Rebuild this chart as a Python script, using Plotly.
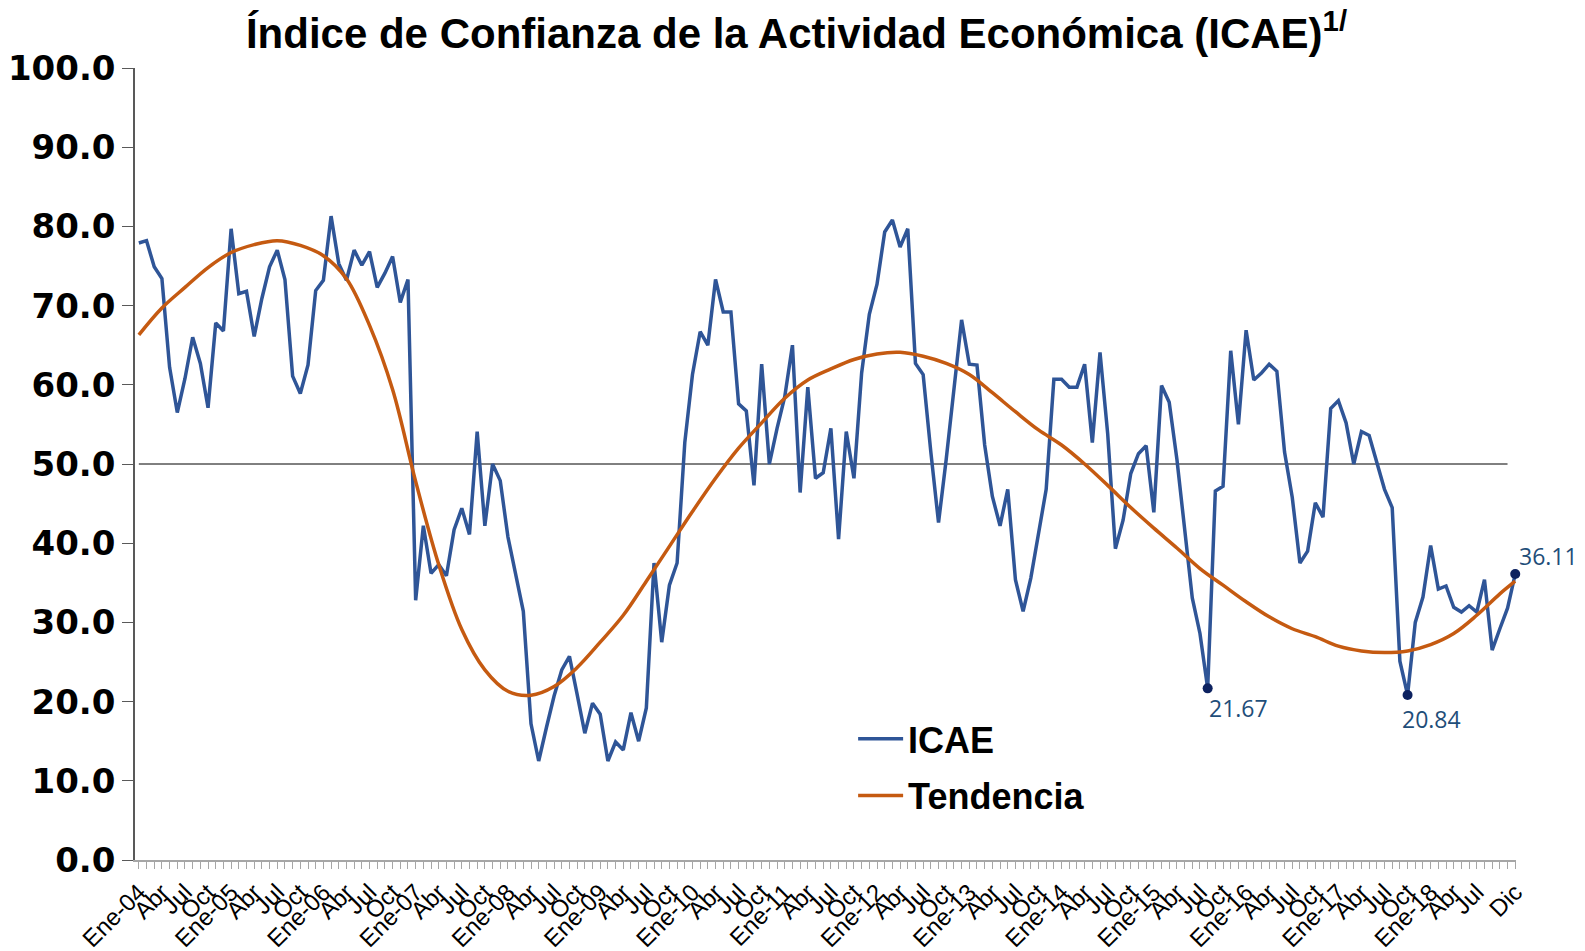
import plotly.graph_objects as go

# Monthly ICAE, Ene-04 .. Dic-18 (180 months)
icae = [
    77.9, 78.2, 74.9, 73.4, 62.2, 56.5, 60.8, 66.0, 62.7, 57.1, 67.8, 66.8,
    79.7, 71.5, 71.8, 66.1, 70.9, 74.9, 77.0, 73.3, 61.1, 58.9, 62.5, 71.9,
    73.2, 81.3, 75.3, 73.2, 77.0, 75.1, 76.8, 72.3, 74.1, 76.2, 70.4, 73.3,
    32.8, 42.2, 36.2, 37.3, 35.9, 41.7, 44.4, 41.1, 54.1, 42.2, 50.0, 47.9,
    40.8, 36.1, 31.4, 17.2, 12.5, 16.7, 20.7, 24.0, 25.7, 20.9, 16.0, 19.8,
    18.4, 12.5, 14.9, 13.9, 18.6, 15.0, 19.2, 37.5, 27.5, 34.7, 37.5, 52.7,
    61.3, 66.7, 65.0, 73.3, 69.2, 69.2, 57.6, 56.7, 47.3, 62.6, 50.0, 54.5,
    58.5, 65.0, 46.4, 59.7, 48.2, 48.9, 54.5, 40.5, 54.1, 48.2, 61.5, 68.9,
    72.7, 79.3, 80.8, 77.4, 79.7, 62.7, 61.3, 51.5, 42.6, 50.6, 59.4, 68.2,
    62.6, 62.5, 52.4, 45.9, 42.2, 46.8, 35.4, 31.4, 35.6, 41.5, 46.8, 60.7,
    60.7, 59.7, 59.7, 62.6, 52.7, 64.1, 53.8, 39.3, 42.9, 48.8, 51.3, 52.3,
    43.9, 59.9, 57.8, 50.6, 41.9, 33.1, 28.6, 21.67, 46.6, 47.2, 64.3, 55.0,
    66.9, 60.6, 61.5, 62.6, 61.7, 51.5, 45.8, 37.5, 39.0, 45.1, 43.3, 57.0,
    58.0, 55.2, 50.0, 54.1, 53.6, 50.3, 46.8, 44.5, 25.1, 20.84, 30.0, 33.2,
    39.7, 34.2, 34.6, 31.9, 31.3, 32.1, 31.3, 35.4, 26.5, 29.2, 31.8, 36.11,
]

# trend line every quarter (plus the last month)
trend_months = list(range(0, 180, 3)) + [179]
trend = [
    66.3, 69.7, 72.3, 74.8, 76.7, 77.7, 78.2, 77.6, 76.3, 73.4,
    67.5, 59.4, 47.8, 37.3, 29.1, 24.0, 21.3, 20.8, 21.9, 24.3,
    27.5, 30.9, 35.2, 39.6, 44.0, 48.2, 52.0, 55.2, 58.3, 60.6,
    62.0, 63.2, 63.9, 64.1, 63.6, 62.7, 61.3, 59.0, 56.6, 54.3,
    52.4, 50.0, 47.3, 44.5, 41.9, 39.4, 36.8, 34.7, 32.6, 30.7,
    29.2, 28.2, 27.0, 26.4, 26.2, 26.4, 27.2, 28.6, 30.9, 33.6,
    35.2,
]

years = ["04", "05", "06", "07", "08", "09", "10", "11",
         "12", "13", "14", "15", "16", "17", "18"]
tick_labels = []
for yy in years:
    tick_labels += ["Ene-" + yy, "Abr", "Jul", "Oct"]
tick_labels = tick_labels[:-1] + ["Dic"]
tick_pos = list(range(0, 177, 3)) + [179]

labeled = [139, 165, 179]
months = list(range(len(icae)))

BLUE = "#2F5597"
ORANGE = "#C55A11"

fig = go.Figure()
fig.add_trace(go.Scatter(
    x=months, y=icae, mode="lines", name="ICAE",
    line=dict(color=BLUE, width=3.5), legendgroup="a",
))
fig.add_trace(go.Scatter(
    x=trend_months, y=trend, mode="lines", name="Tendencia",
    line=dict(color=ORANGE, width=3.5, shape="spline", smoothing=1.0),
    legendgroup="b",
))
fig.add_trace(go.Scatter(
    x=labeled, y=[icae[i] for i in labeled], mode="markers",
    marker=dict(color="#0D2260", size=10),
    showlegend=False, cliponaxis=False,
))

# data labels for the highlighted points
label_style = [
    dict(xanchor="left", yanchor="top", xshift=-1, yshift=-2),
    dict(xanchor="left", yanchor="top", xshift=-8, yshift=-6),
    dict(xanchor="left", yanchor="bottom", xshift=2, yshift=0),
]
for i, st in zip(labeled, label_style):
    fig.add_annotation(
        x=i, y=icae[i], text=f"{icae[i]:.2f}", showarrow=False,
        font=dict(family="Open Sans", size=23, color="#1F4E79"), **st,
    )

fig.add_shape(type="line", xref="x", yref="y", x0=0, x1=178, y0=50, y1=50,
              line=dict(color="black", width=1), layer="below")

# page body has an 8px margin, so the figure is sized to fit the window
fig.update_layout(
    width=1577, height=943,
    paper_bgcolor="white", plot_bgcolor="white",
    margin=dict(l=127, r=69, t=60, b=91),
    title=dict(
        text="Índice de Confianza de la Actividad Económica (ICAE)<sup>1/</sup>",
        x=0.5, xref="container", xanchor="center",
        y=0.973, yref="container", yanchor="middle",
        font=dict(family="Liberation Sans", size=42, color="black", weight="bold"),
    ),
    legend=dict(
        x=0.52, y=0.191, xanchor="left", yanchor="top",
        font=dict(family="Liberation Sans", size=36, color="black", weight="bold"),
        traceorder="grouped", tracegroupgap=7, itemwidth=45,
        bgcolor="rgba(0,0,0,0)",
    ),
    showlegend=True,
)
fig.update_xaxes(
    range=[-0.5, 179.1], automargin=False,
    tickmode="array", tickvals=tick_pos, ticktext=tick_labels,
    tickangle=-45,
    tickfont=dict(family="Liberation Sans", size=24, color="black"),
    ticks="outside", ticklen=7, tickcolor="#A6A6A6",
    minor=dict(dtick=1, tick0=0, ticks="outside", ticklen=7, tickcolor="#A6A6A6"),
    showline=True, linecolor="#A6A6A6", linewidth=1.5,
    showgrid=False, zeroline=False,
)
fig.update_yaxes(
    range=[0, 100], dtick=10, tickformat=".1f", automargin=False,
    tickfont=dict(family="DejaVu Sans", size=34, color="black", weight="bold"),
    ticks="outside", ticklen=11, tickcolor="#595959",
    showline=True, linecolor="#595959", linewidth=1.5,
    showgrid=False, zeroline=False,
)

fig.write_html("out.html")
